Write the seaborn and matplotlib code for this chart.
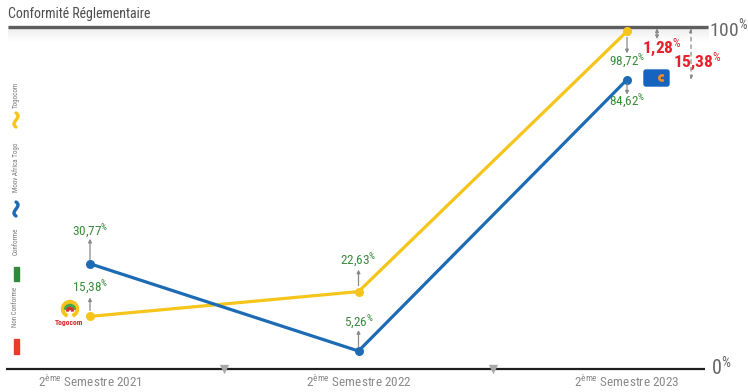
import numpy as np
import pandas as pd
import matplotlib
matplotlib.use("Agg")
import matplotlib.pyplot as plt
import matplotlib.transforms as mtransforms
from matplotlib import font_manager
from matplotlib.patches import FancyBboxPatch, Rectangle, Wedge, PathPatch
from matplotlib.path import Path
import seaborn as sns

# ---------------- data ----------------
semestres = ["2ème Semestre 2021", "2ème Semestre 2022", "2ème Semestre 2023"]
operateurs = ["Togocom", "Moov Africa Togo"]
togocom = [15.38, 22.63, 98.72]
moov = [30.77, 5.26, 84.62]
ecarts = [1.28, 15.38]          # distance to 100 % on the last semester
legende = ["Togocom", "Moov Africa Togo", "Conforme", "Non Conforme"]

# ---------------- style ----------------
sns.set_theme(style="white")
installed = {f.name for f in font_manager.fontManager.ttflist}
NARROW = next((f for f in ["Liberation Sans Narrow", "Roboto Condensed", "Open Sans Condensed",
                           "Lato", "Roboto", "DejaVu Sans"] if f in installed), "DejaVu Sans")
plt.rcParams["font.family"] = [NARROW, "DejaVu Sans"]
plt.rcParams["mathtext.fontset"] = "custom"
plt.rcParams["mathtext.rm"] = NARROW
plt.rcParams["mathtext.it"] = NARROW
plt.rcParams["mathtext.bf"] = NARROW + ":bold"

YELLOW = "#f5c51c"
BLUE = "#1d6bb4"
GREEN = "#3a8a3c"
RED = "#e4202a"

W, H = 748, 392
fig = plt.figure(figsize=(W / 100, H / 100), dpi=100)
ax = fig.add_axes([0, 0, 1, 1])
ax.axis("off")

# axis geometry (pixels): first semester at 90px, last at 627px, 0 % at 369px, 100 % at 27px
PX_X = (627 - 90) / 2
PX_Y = (369 - 27) / 100
X0, X1 = -90 / PX_X, 2 + (W - 627) / PX_X
Y0, Y1 = -(H - 369) / PX_Y, 100 + 27 / PX_Y


def px(x):
    return X0 + x / PX_X


def py(y):
    return Y1 - y / PX_Y


# ---------------- frame ----------------
grad = np.linspace(0.17, 0.0, 64).reshape(-1, 1)
ax.imshow(grad, cmap="Greys", vmin=0, vmax=1, aspect="auto",
          extent=[px(8), px(708), py(42), 100], zorder=0, interpolation="bicubic")
ax.plot([px(8), px(708)], [100, 100], color="#5e5e5e", lw=2.4, solid_capstyle="butt", zorder=2)
ax.plot([px(6), px(705)], [0, 0], color="#1e1e1e", lw=1.6, solid_capstyle="butt", zorder=2)
ax.scatter([0.5, 1.5], [0, 0], marker="v", s=45, color="#a9a9a9", zorder=3, linewidths=0)

ax.text(px(8), py(14), "Conformité Réglementaire", fontsize=10, color="#4d4d4d",
        ha="left", va="center")
ax.text(px(709), py(28), "100$^{\\%}$", fontsize=14, color="#666666", ha="left", va="center")
ax.text(px(711), py(368), "0$^{\\%}$", fontsize=14.5, color="#666666", ha="left", va="center")

for i, lab in enumerate(semestres):
    ax.text(i, py(382), lab.replace("ème", "$^{\\mathrm{ème}}$"), fontsize=9.5,
            color="#8a8a8a", ha="center", va="center")

# ---------------- lines ----------------
df = pd.DataFrame({
    "semestre": np.tile(np.arange(len(semestres)), 2),
    "taux": togocom + moov,
    "operateur": np.repeat(operateurs, len(semestres)),
})
sns.lineplot(data=df, x="semestre", y="taux", hue="operateur",
             palette={"Togocom": YELLOW, "Moov Africa Togo": BLUE},
             marker="o", markersize=6.5, markeredgewidth=0, linewidth=2.3,
             legend=False, ax=ax, zorder=4)


def offset(dy):
    return mtransforms.offset_copy(ax.transData, fig=fig, x=0, y=dy, units="dots")


def value_label(x, v, dy, a0, a1):
    txt = f"{v:.2f}".replace(".", ",") + "$^{\\%}$"
    ax.text(x, v, txt, transform=offset(dy), fontsize=9.5, color=GREEN,
            ha="center", va="center", zorder=5)
    ax.annotate("", xy=(x, v), xycoords=offset(a1), xytext=(x, v), textcoords=offset(a0),
                arrowprops=dict(arrowstyle="-|>", color="#8a8a8a", lw=0.9,
                                mutation_scale=5, shrinkA=0, shrinkB=0), zorder=5)


tog_dy = [28, 31, -31]
moov_dy = [32, 28, -22]
for i, v in enumerate(togocom):
    d = tog_dy[i]
    s = np.sign(d)
    value_label(i, v, d, 6 * s, d - 9 * s)
for i, v in enumerate(moov):
    d = moov_dy[i]
    s = np.sign(d)
    value_label(i, v, d, 4 * s, d - 7 * s)

# gaps to 100 %
g1, g2 = ecarts
ax.annotate("", xy=(px(657), py(39)), xytext=(px(657), 100),
            arrowprops=dict(arrowstyle="<|-|>", color="#8a8a8a", lw=0.9,
                            mutation_scale=5, shrinkA=1, shrinkB=0), zorder=5)
ax.annotate("", xy=(px(691), 100 - g2), xytext=(px(691), 100),
            arrowprops=dict(arrowstyle="<|-|>", color="#8a8a8a", lw=0.9, ls=(0, (3, 3)),
                            mutation_scale=5, shrinkA=1, shrinkB=0), zorder=5)
ax.text(px(642), py(47), f"{g1:.2f}".replace(".", ",") + "$^{\\%}$", fontsize=12.5,
        fontweight="bold", color=RED, ha="left", va="center", zorder=6)
ax.text(px(673), py(61), f"{g2:.2f}".replace(".", ",") + "$^{\\%}$", fontsize=12.5,
        fontweight="bold", color=RED, ha="left", va="center", zorder=6)

# ---------------- logos ----------------
ident = mtransforms.IdentityTransform()


def fy(y):
    return H - y


# Togocom
cx, cy = 70, fy(309)
fig.add_artist(Wedge((cx, cy), 8.5, -65, 245, width=2.6, color=YELLOW, transform=ident))
fig.add_artist(Wedge((cx, cy - 1.0), 5.6, 10, 170, width=2.0, color="#4aa345", transform=ident))
fig.add_artist(Wedge((cx, cy - 2.0), 3.4, 0, 180, width=1.8, color="#e02d2d", transform=ident))
ax.text(px(69), py(322), "Togocom", fontsize=5.5, color="#d9262c", ha="center", va="center",
        fontweight="bold")

# Moov Africa
fig.add_artist(FancyBboxPatch((644, fy(86)), 25, 16, boxstyle="round,pad=0,rounding_size=2",
                              color="#1565c0", transform=ident))
fig.add_artist(Wedge((662, fy(78)), 3.2, 60, 300, width=1.2, color="#f28c28", transform=ident))
ax.text(px(652), py(78), "Moov\nAfrica", fontsize=2.6, color="white", ha="center",
        va="center", linespacing=0.9, fontweight="bold")

# ---------------- side legend ----------------
for lab, yc in zip(legende, [95, 167, 241, 307]):
    ax.text(px(16), py(yc), lab, rotation=90, fontsize=5, color="#7a7a7a",
            ha="center", va="center")


def wave(xc, yc, color):
    verts = [(xc, fy(yc - 7)), (xc + 7, fy(yc - 2.5)), (xc - 7, fy(yc + 2.5)), (xc, fy(yc + 7))]
    p = Path(verts, [Path.MOVETO, Path.CURVE4, Path.CURVE4, Path.CURVE4])
    fig.add_artist(PathPatch(p, fill=False, edgecolor=color, lw=2.4, transform=ident,
                             capstyle="round"))


wave(16, 120, YELLOW)
wave(16, 209, BLUE)
fig.add_artist(Rectangle((13.5, fy(281)), 5.5, 14, color="#2f8a3a", transform=ident))
fig.add_artist(Rectangle((13.5, fy(354)), 5.5, 15, color="#ea3a2a", transform=ident))

ax.set_xlim(X0, X1)
ax.set_ylim(Y0, Y1)
fig.savefig("out.png", dpi=100)
